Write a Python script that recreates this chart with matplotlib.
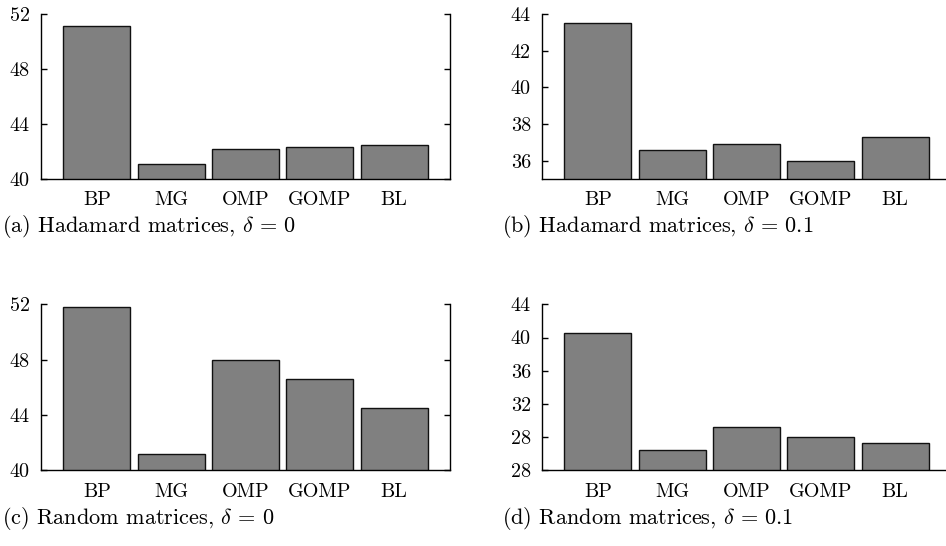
import matplotlib
matplotlib.use("Agg")
import matplotlib.pyplot as plt

plt.rcParams['font.family'] = ['cmr10', 'DejaVu Serif']
plt.rcParams['mathtext.fontset'] = 'cm'
plt.rcParams['axes.formatter.use_mathtext'] = True

categories = ['BP', 'MG', 'OMP', 'GOMP', 'BL']
hadamard_d0 = [51.1, 41.1, 42.2, 42.3, 42.5]
hadamard_d01 = [43.5, 36.6, 36.9, 36.0, 37.3]
random_d0 = [51.8, 41.2, 48.0, 46.6, 44.5]
random_d01 = [40.5, 26.5, 29.2, 28.05, 27.25]

ticks_a = [40, 44, 48, 52]
ticks_b = [36, 38, 40, 42, 44]
ticks_c = [40, 44, 48, 52]
ticks_d = [24, 28, 32, 36, 40, 44]
ticklabels_d = ['28', '28', '32', '36', '40', '44']

captions = [r'(a) Hadamard matrices, $\delta\, =\, 0$',
            r'(b) Hadamard matrices, $\delta\, =\, 0.1$',
            r'(c) Random matrices, $\delta\, =\, 0$',
            r'(d) Random matrices, $\delta\, =\, 0.1$']

W, H = 946, 546
fig = plt.figure(figsize=(W / 100, H / 100), dpi=100)

def axpos(left, top, bottom, width=409):
    return [left / W, 1 - bottom / H, width / W, (bottom - top) / H]

panels = [
    (axpos(41, 14, 179), hadamard_d0, (40, 52), ticks_a, None, True),
    (axpos(542, 14, 179), hadamard_d01, (35, 44), ticks_b, None, False),
    (axpos(41, 304.3, 470.3), random_d0, (40, 52), ticks_c, None, True),
    (axpos(542, 304.3, 470.3), random_d01, (24, 44), ticks_d, ticklabels_d, False),
]

FS = 14.5
CAP_FS = 16
for pos, vals, ylim, ticks, tlabels, right in panels:
    ax = fig.add_axes(pos)
    x = list(range(len(categories)))
    ax.bar(x, vals, width=0.9, color='#808080', edgecolor='#111111', linewidth=1.0)
    ax.set_xlim(-0.75, 4.75)
    ax.set_ylim(*ylim)
    ax.set_xticks(x)
    ax.set_xticklabels(categories, fontsize=FS)
    ax.set_yticks(ticks)
    if tlabels is not None:
        ax.set_yticklabels(tlabels, fontsize=FS)
    else:
        ax.set_yticklabels([str(t) for t in ticks], fontsize=FS)
    ax.spines['top'].set_visible(False)
    ax.spines['right'].set_visible(right)
    for s in ['left', 'right', 'bottom']:
        ax.spines[s].set_linewidth(1.0)
        ax.spines[s].set_color('black')
    ax.tick_params(axis='x', length=0, pad=9)
    ax.tick_params(axis='y', direction='in', length=4, right=right, pad=8, width=1.0)

cap_pos = [(2, 226), (502, 226), (2, 519), (502, 519)]
for (cx, cy), cap in zip(cap_pos, captions):
    fig.text(cx / W, 1 - cy / H, cap, fontsize=CAP_FS, ha='left', va='center')

fig.savefig('out.png', dpi=100)
